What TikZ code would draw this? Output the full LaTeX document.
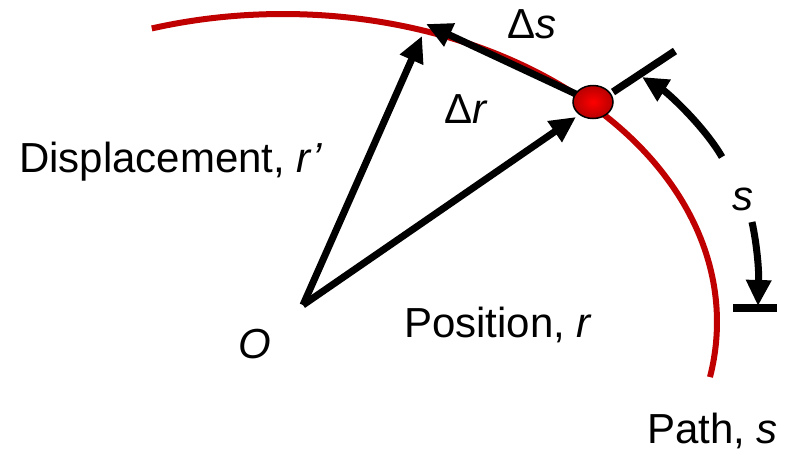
\documentclass[tikz,border=0pt]{standalone}
\usepackage{fontspec}
\setmainfont{Liberation Sans}
\usetikzlibrary{arrows.meta,shapes.geometric}
\definecolor{pathred}{RGB}{192,0,0}
\tikzset{
  vec/.style={line width=7pt, -{Triangle[length=26pt,width=24pt]}},
  bar/.style={line width=7.5pt},
  lbl/.style={anchor=base west, inner sep=0pt, font=\fontsize{42}{50}\selectfont},
  pathline/.style={line width=6pt, draw=pathred},
}
\begin{document}
\begin{tikzpicture}[x=1pt,y=-1pt]
\useasboundingbox (0,0) rectangle (785,451);
% path
\draw[pathline] plot[domain=-10.3:107.6, samples=120, smooth] ({283+434*cos(\x)}, {322-308*sin(\x)});
% coordinates
\coordinate (O) at (303,305);
\coordinate (P) at (593,102);
\coordinate (Rtip) at (576,117);
\coordinate (Rptip) at (422,36);
\coordinate (Dstip) at (426,24);
\coordinate (T1a) at (613,92);
\coordinate (T1b) at (675,51);
\coordinate (A1s) at (722,157);
\coordinate (A1e) at (642,77);
\coordinate (A2s) at (752,222);
\coordinate (A2e) at (758,306);
\coordinate (B1) at (733,308);
\coordinate (B2) at (777,308);
% vectors
\draw[vec] (O) -- (Rptip);
\draw[vec] (O) -- (Rtip);
\draw[vec] (P) -- (Dstip);
% s markers
\draw[bar] (T1a) -- (T1b);
\draw[bar] (B1) -- (B2);
\draw[vec] (A1s) .. controls (704,126) and (668,93) .. (A1e);
\draw[vec] (A2s) .. controls (757,245) and (759,270) .. (A2e);
% particle
\node[ellipse, draw=black, line width=1.5pt, minimum width=40pt, minimum height=33pt, inner sep=0pt,
      inner color=red, outer color=red!72!black] (ball) at (P) {};
% labels
\node[lbl] (ldisp) at (19,172) {Displacement, \textit{r’}};
\node[lbl] (lO) at (238,358) {\textit{O}};
\node[lbl] (lpos) at (404,337) {Position, \textit{r}};
\node[lbl] (lpath) at (647,443) {Path, \textit{s}};
\node[lbl] (lds) at (507,38) {Δ\textit{s}};
\node[lbl] (ldr) at (444,123) {Δ\textit{r}};
\node[lbl] (ls) at (732,210) {\textit{s}};
\end{tikzpicture}
\end{document}
